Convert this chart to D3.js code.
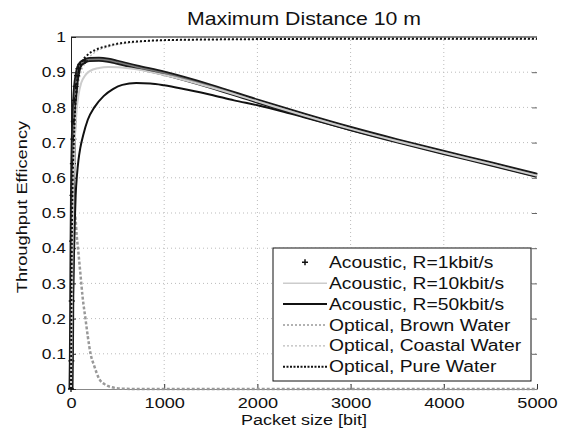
<!DOCTYPE html>
<html><head><meta charset="utf-8">
<script src="https://cdn.jsdelivr.net/npm/d3@7"></script>
<style>body{margin:0;background:#fff}svg{display:block}text{font-family:"Liberation Sans",Arial,sans-serif}</style>
</head><body><div id="c"></div>
<script>
// Data (packet size [bit], throughput efficiency)
const title = "Maximum Distance 10 m";
const xLabel = "Packet size [bit]";
const yLabel = "Throughput Efficency";
const xTicks = [0, 1000, 2000, 3000, 4000, 5000];
const yTicks = [0, 0.1, 0.2, 0.3, 0.4, 0.5, 0.6, 0.7, 0.8, 0.9, 1];
const seriesNames = ["Acoustic, R=1kbit/s","Acoustic, R=10kbit/s","Acoustic, R=50kbit/s","Optical, Brown Water","Optical, Coastal Water","Optical, Pure Water"];

const acoustic1k = [[0,0],[4,0.08],[8,0.25],[12,0.42],[16,0.55],[20,0.64],[25,0.71],[30,0.76],[40,0.82],[50,0.86],[65,0.89],[80,0.91],[100,0.922],[150,0.932],[200,0.936],[300,0.937],[400,0.934],[500,0.928],[700,0.915],[1000,0.897],[1500,0.86],[2000,0.818],[2500,0.778],[3000,0.74],[3500,0.705],[4000,0.672],[4500,0.64],[5000,0.607]];
const acoustic10k = [[0,0],[8,0.2],[15,0.38],[25,0.55],[40,0.7],[60,0.79],[80,0.835],[110,0.87],[150,0.89],[200,0.903],[300,0.912],[400,0.915],[500,0.914],[700,0.908],[1000,0.892],[1500,0.857],[2000,0.817],[2500,0.777],[3000,0.739],[3500,0.704],[4000,0.671],[4500,0.639],[5000,0.606]];
const acoustic50k = [[0,0],[5,0.05],[10,0.12],[20,0.25],[30,0.36],[40,0.47],[50,0.55],[65,0.61],[80,0.65],[100,0.685],[130,0.72],[180,0.765],[250,0.8],[350,0.832],[450,0.852],[550,0.864],[700,0.869],[850,0.868],[1000,0.863],[1250,0.85],[1500,0.836],[1750,0.82],[2000,0.806],[2250,0.79],[2500,0.772],[3000,0.736],[3500,0.702],[4000,0.669],[4500,0.637],[5000,0.604]];
const brownWater = [[0,0],[10,0.2],[20,0.38],[30,0.47],[40,0.5],[50,0.48],[60,0.44],[75,0.4],[100,0.33],[125,0.26],[155,0.2],[180,0.15],[210,0.1],[250,0.065],[300,0.03],[370,0.012],[440,0.005],[550,0.001],[700,0],[5000,0]];
const coastalWater = [[0,0],[4,0.15],[8,0.3],[12,0.42],[18,0.53],[25,0.62],[40,0.74],[60,0.82],[90,0.88],[150,0.925],[250,0.955],[400,0.972],[700,0.985],[1000,0.99],[2000,0.993],[3000,0.993],[5000,0.993]];
const pureWater = [[0,0],[3,0.15],[6,0.3],[10,0.45],[15,0.55],[20,0.62],[30,0.7],[45,0.8],[60,0.86],[80,0.9],[120,0.93],[180,0.95],[260,0.963],[400,0.975],[520,0.982],[700,0.987],[1000,0.991],[1500,0.993],[2000,0.994],[3000,0.995],[5000,0.995]];

const W = 565, H = 432;
const m = {left:71, right:28, top:37, bottom:43};
const svg = d3.select("#c").append("svg").attr("width", W).attr("height", H);
const x = d3.scaleLinear().domain([0,5000]).range([m.left, W-m.right]);
const y = d3.scaleLinear().domain([0,1]).range([H-m.bottom, m.top]);

// widen text glyphs like the reference's stretched rendering
function stretch(sel, k) {
  sel.each(function(){
    const l = this.getComputedTextLength();
    d3.select(this).attr("textLength", l*k).attr("lengthAdjust","spacingAndGlyphs");
  });
}

// grid
const grid = svg.append("g").attr("stroke","#bbb").attr("stroke-width",1).attr("stroke-dasharray","1,3");
xTicks.slice(1,-1).forEach(t=>grid.append("line").attr("x1",x(t)).attr("x2",x(t)).attr("y1",y(0)).attr("y2",y(1)));
yTicks.slice(1,-1).forEach(t=>grid.append("line").attr("x1",x(0)).attr("x2",x(5000)).attr("y1",y(t)).attr("y2",y(t)));

// axes
const xAx = svg.append("g").attr("transform",`translate(0,${y(0)})`)
  .call(d3.axisBottom(x).tickValues(xTicks).tickSize(-5).tickPadding(9).tickFormat(d3.format("d")));
const yAx = svg.append("g").attr("transform",`translate(${x(0)},0)`)
  .call(d3.axisLeft(y).tickValues(yTicks).tickSize(-5).tickPadding(5).tickFormat(d=>d===0?"0":d===1?"1":d3.format(".1f")(d)));
[xAx,yAx].forEach(a=>{a.selectAll("text").attr("font-size",14.5).attr("fill","#111");a.selectAll("line").attr("stroke","#333");});
stretch(xAx.selectAll("text"), 1.25);
stretch(yAx.selectAll("text"), 1.2);
xAx.select(".domain").attr("stroke","#888");
yAx.select(".domain").attr("stroke","#222");
svg.append("g").attr("transform",`translate(${x(5000)},0)`)
  .call(d3.axisRight(y).tickValues(yTicks.slice(1,-1)).tickSize(-5).tickFormat(""))
  .call(g=>{g.select(".domain").remove();g.selectAll("line").attr("stroke","#666");});
svg.append("line").attr("x1",x(0)).attr("x2",x(5000)).attr("y1",y(1)).attr("y2",y(1)).attr("stroke","#111").attr("stroke-width",1);

const line = d3.line().x(d=>x(d[0])).y(d=>y(d[1])).curve(d3.curveMonotoneX);
const plot = svg.append("g");
// Brown water
plot.append("path").datum(brownWater).attr("d",line).attr("fill","none").attr("stroke","#999").attr("stroke-width",2.5).attr("stroke-dasharray","3,2");
// Coastal water
plot.append("path").datum(coastalWater).attr("d",line).attr("fill","none").attr("stroke","#bbb").attr("stroke-width",1.2).attr("stroke-dasharray","2,2");
// R=50k
plot.append("path").datum(acoustic50k).attr("d",line).attr("fill","none").attr("stroke","#111").attr("stroke-width",2);
// R=1k: dense plus markers form a dark band
plot.append("path").datum(acoustic1k).attr("d",line).attr("fill","none").attr("stroke","#1a1a1a").attr("stroke-width",5);
plot.append("path").datum(acoustic1k).attr("d",line).attr("fill","none").attr("stroke","#777").attr("stroke-width",1.5);
plot.selectAll(".pm").data(acoustic1k.filter(d=>d[0]<=150)).join("path")
  .attr("transform",d=>`translate(${x(d[0])},${y(d[1])})`)
  .attr("d","M-3,0H3M0,-3V3").attr("stroke","#111").attr("stroke-width",1.3);
// R=10k
plot.append("path").datum(acoustic10k).attr("d",line).attr("fill","none").attr("stroke","#ccc").attr("stroke-width",2);
// Pure water
plot.append("path").datum(pureWater).attr("d",line).attr("fill","none").attr("stroke","#111").attr("stroke-width",2).attr("stroke-dasharray","2,2");

// Title & labels
const cx = (x(0)+x(5000))/2;
stretch(svg.append("text").attr("x",cx).attr("y",25).attr("text-anchor","middle").attr("font-size",18.5).attr("fill","#111").text(title), 1.15);
stretch(svg.append("text").attr("x",cx).attr("y",425).attr("text-anchor","middle").attr("font-size",15.5).attr("fill","#111").text(xLabel), 1.16);
stretch(svg.append("text").attr("transform",`translate(27,207) rotate(-90)`).attr("text-anchor","middle").attr("font-size",15.5).attr("fill","#111").text(yLabel), 1.18);

// Legend
const lg = svg.append("g");
lg.append("rect").attr("x",273).attr("y",248).attr("width",258).attr("height",133).attr("fill","#fff").attr("stroke","#111").attr("stroke-width",1);
const styles = [
  {marker:true},
  {stroke:"#ccc",w:1.5,dash:null},
  {stroke:"#111",w:2,dash:null},
  {stroke:"#999",w:1.5,dash:"2,2"},
  {stroke:"#bbb",w:1.2,dash:"2,2"},
  {stroke:"#111",w:2,dash:"2,1.5"}
];
seriesNames.forEach((n,i)=>{
  const yy = 262.3 + i*20.9;
  const s = styles[i];
  if (s.marker) {
    lg.append("path").attr("transform",`translate(305,${yy})`).attr("d","M-3,0H3M0,-3V3").attr("stroke","#111").attr("stroke-width",1.5);
  } else {
    const l = lg.append("line").attr("x1",283).attr("x2",327).attr("y1",yy).attr("y2",yy).attr("stroke",s.stroke).attr("stroke-width",s.w);
    if (s.dash) l.attr("stroke-dasharray",s.dash);
  }
  stretch(lg.append("text").attr("x",329).attr("y",yy+5.5).attr("font-size",15.8).attr("fill","#111").text(n), 1.22);
});
</script></body></html>
